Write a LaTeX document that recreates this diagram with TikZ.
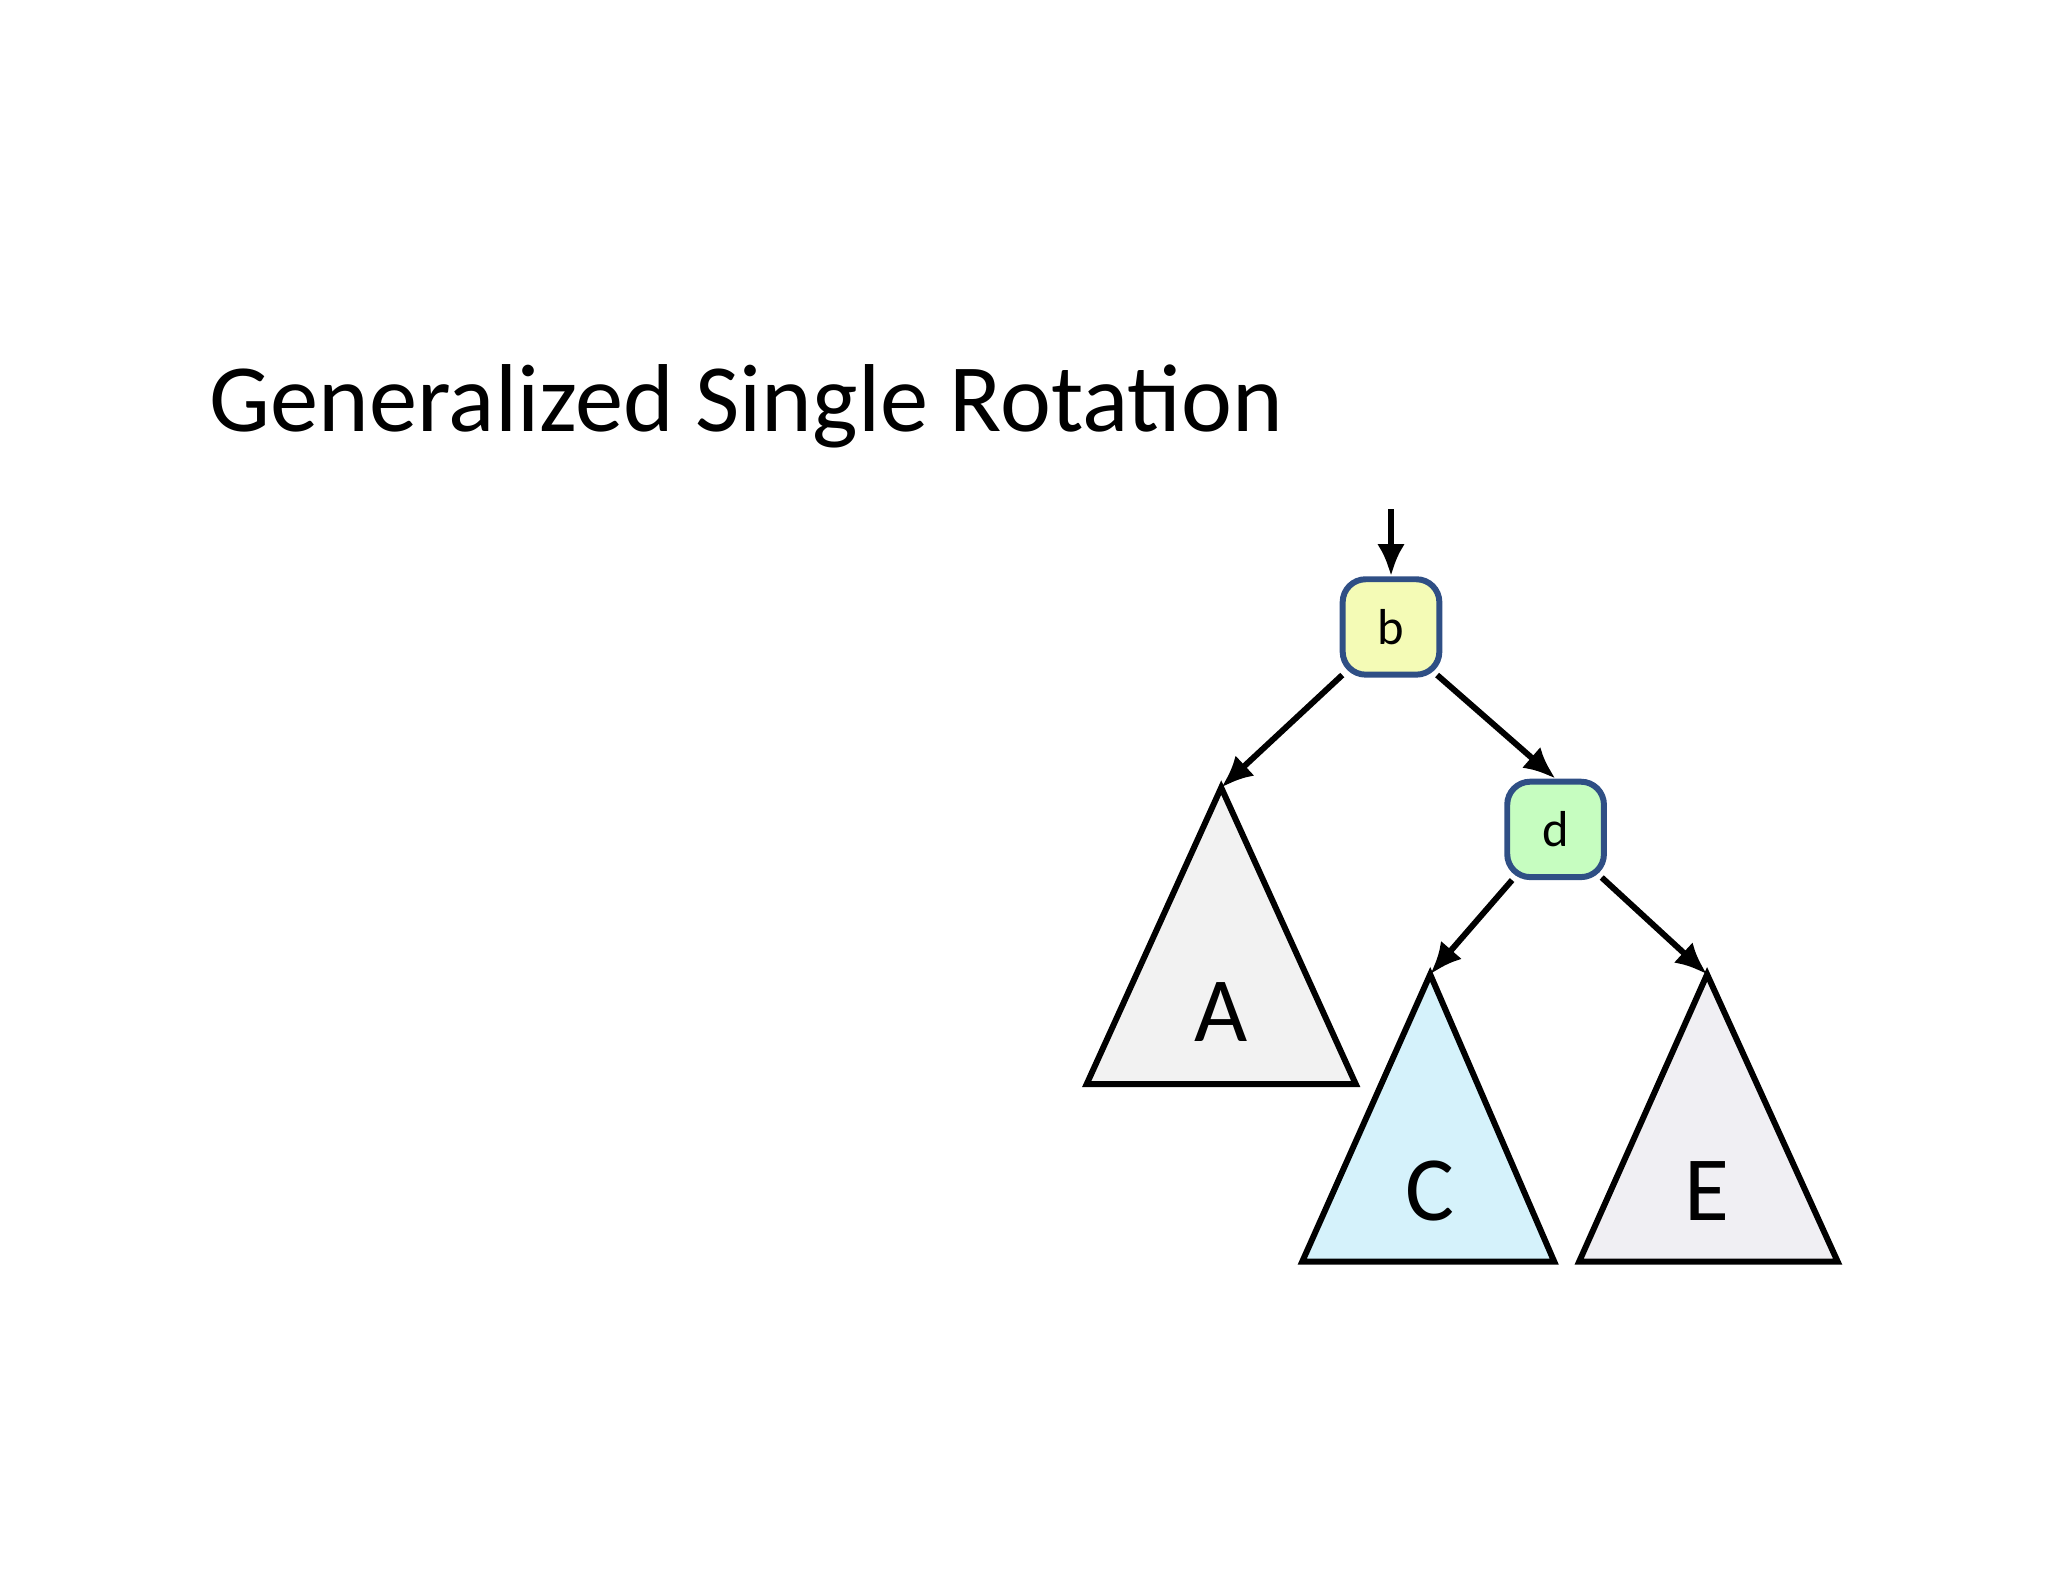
\documentclass[tikz,border=0pt]{standalone}
\usepackage{fontspec}
\setmainfont{Carlito}
\usetikzlibrary{arrows.meta}
\definecolor{ybox}{HTML}{F4FBB6}
\definecolor{gbox}{HTML}{C6FDC0}
\definecolor{bdr}{HTML}{2F4F85}
\definecolor{triA}{HTML}{F2F2F2}
\definecolor{triC}{HTML}{D5F2FB}
\definecolor{triE}{HTML}{F0EFF3}
\begin{document}
\begin{tikzpicture}[x=0.01cm,y=-0.01cm,
  keynode/.style={draw=bdr,line width=1.3pt,rounded corners=5pt,minimum width=0.74cm,minimum height=0.73cm,inner sep=0pt,font=\fontsize{11}{13}\selectfont},
  edge/.style={line width=1.3pt,-{Latex[length=7pt,width=6pt]}},
  tri/.style={draw=black,line width=1.3pt},
  trilabel/.style={font=\fontsize{20}{24}\selectfont}]
\useasboundingbox (0,0) rectangle (1568,1211);
\node[anchor=base west,font=\fontsize{21}{25}\selectfont] at (148,330) {Generalized Single Rotation};
\coordinate (top) at (1065,390);
\node[keynode,fill=ybox] (b) at (1065,480) {b};
\node[keynode,fill=gbox] (d) at (1191,635) {d};
\coordinate (A) at (935,603);
\coordinate (C) at (1095,746);
\coordinate (E) at (1307,746);
\filldraw[tri,fill=triA] (A) -- (832,830) -- (1038,830) -- cycle;
\filldraw[tri,fill=triC] (C) -- (997,966) -- (1190,966) -- cycle;
\filldraw[tri,fill=triE] (E) -- (1209,966) -- (1407,966) -- cycle;
\node[trilabel] (la) at (935,775) {A};
\node[trilabel] (lc) at (1095,912) {C};
\node[trilabel] (le) at (1307,912) {E};
\draw[edge] (top) -- (b);
\draw[edge] (b.south west) ++(2,-2) -- (A);
\draw[edge] (b.south east) ++(-4,-2) -- (d.north);
\draw[edge] (d.south west) ++(6,0) -- (C);
\draw[edge] (d.south east) ++(-4,-2) -- (E);
\end{tikzpicture}
\end{document}
